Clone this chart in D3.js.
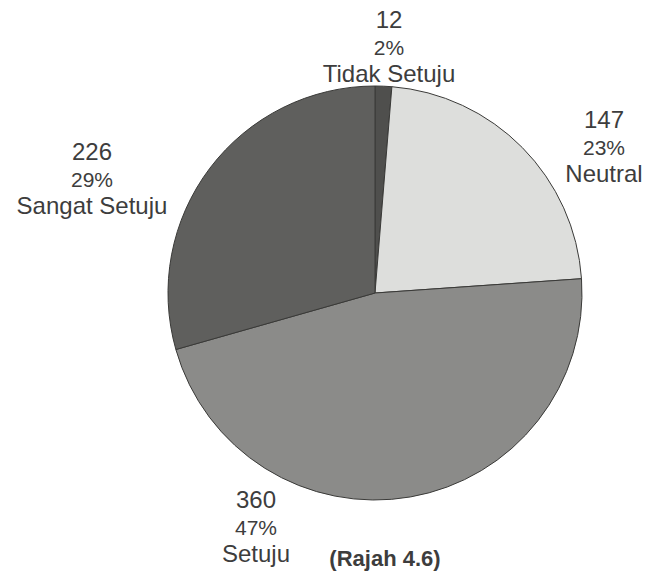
<!DOCTYPE html>
<html lang="en">
<head>
	<meta charset="utf-8">
	<title>Pie</title>
<style>
	body, html {
	  margin: 0;
	  background: #fff;
	}
	svg text {
	  font-family: "Liberation Sans", Arial, Helvetica, sans-serif;
	  fill: #3d3d3d;
	  text-anchor: middle;
	}
	.slice {
	  stroke: #3a3a38;
	  stroke-width: 1;
	}
</style>
</head>
<body>
	<svg></svg>
	<script src="https://d3js.org/d3.v7.min.js"></script>
	<script>

		// data
		let categories = ["Tidak Setuju", "Neutral", "Setuju", "Sangat Setuju"];
		let counts = [12, 147, 360, 226];
		let percents = [2, 23, 47, 29];
		// share of the circle each slice takes, as measured on the drawing
		let shares = [1.3, 22.6, 46.7, 29.4];

		let w = 645, h = 573;
		let cx = 375, cy = 293, r = 207;

		let svg = d3.select("svg")
			.attr("width", w)
			.attr("height", h);

		let color = d3.scaleOrdinal()
			.domain(categories)
			.range(["#4f4f4d", "#dddedc", "#8b8b89", "#5f5f5d"]);

		let pie = d3.pie()
			.sort(null)
			.value((d, i) => shares[i]);

		let arc = d3.arc()
			.innerRadius(0)
			.outerRadius(r);

		let rows = categories.map((c, i) => ({ cat: c, count: counts[i], pct: percents[i] }));

		let g = svg.append("g")
			.attr("transform", `translate(${cx},${cy})`);

		g.selectAll("path")
			.data(pie(rows))
			.enter()
			.append("path")
			.attr("class", "slice")
			.attr("d", arc)
			.attr("fill", d => color(d.data.cat));

		// label blocks: where each block's middle line sits, relative to centre
		let labelPos = {
			"Tidak Setuju": [14, -238],
			"Neutral": [229, -138],
			"Setuju": [-119, 242],
			"Sangat Setuju": [-283, -106]
		};

		let labels = g.selectAll("g.lbl")
			.data(pie(rows))
			.enter()
			.append("g")
			.attr("class", "lbl")
			.attr("transform", d => `translate(${labelPos[d.data.cat][0]},${labelPos[d.data.cat][1]})`);

		labels.append("text")
			.attr("y", -27)
			.style("font-size", "24px")
			.text(d => d.data.count);

		labels.append("text")
			.attr("y", 0)
			.style("font-size", "21px")
			.text(d => d.data.pct + "%");

		labels.append("text")
			.attr("y", 27)
			.style("font-size", "24px")
			.text(d => d.data.cat);

		// caption at the bottom edge
		svg.append("text")
			.attr("x", 385)
			.attr("y", 566)
			.style("font-size", "22px")
			.style("font-weight", "bold")
			.text("(Rajah 4.6)");

	</script>
</body>
</html>
